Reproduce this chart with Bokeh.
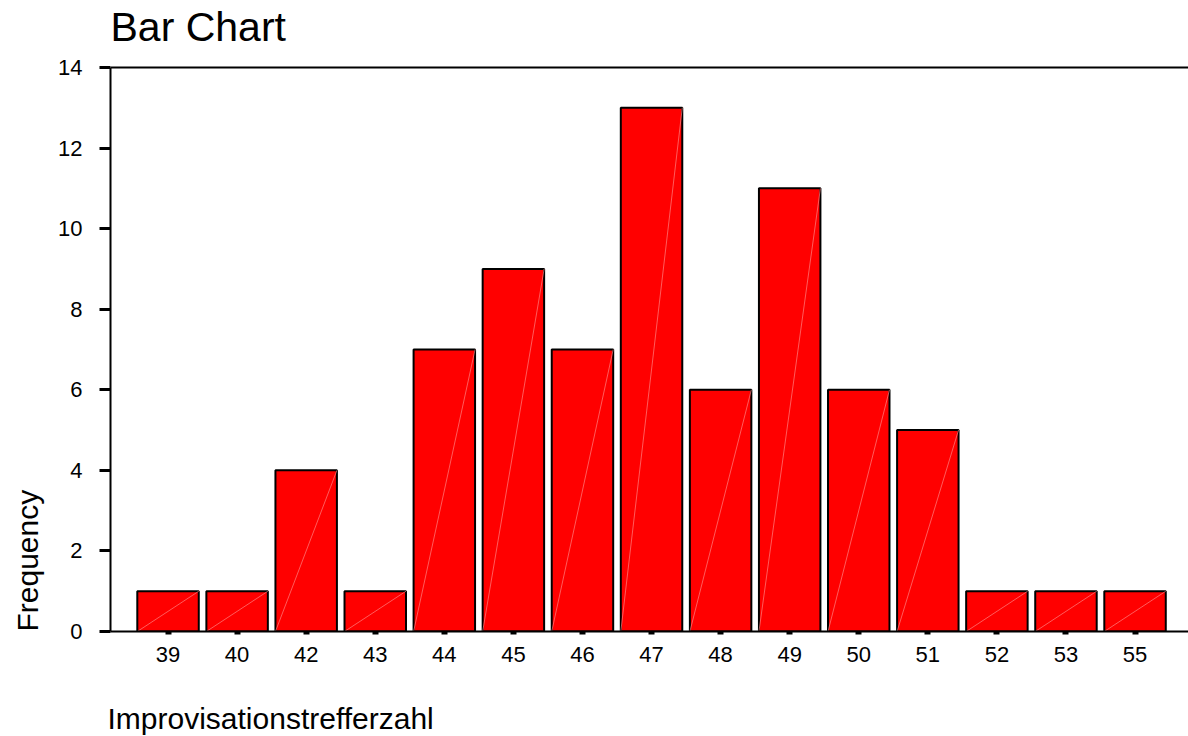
from bokeh.plotting import figure
from bokeh.models import FixedTicker, Range1d, Span, Title, Label, ColumnDataSource
from bokeh.embed import file_html
from bokeh.resources import INLINE

categories = ["39", "40", "42", "43", "44", "45", "46", "47", "48", "49", "50", "51", "52", "53", "55"]
frequency = [1, 1, 4, 1, 7, 9, 7, 13, 6, 11, 6, 5, 1, 1, 1]
y_ticks = [0, 2, 4, 6, 8, 10, 12, 14]
y_max = 14

FONT = "Liberation Sans"
BAR_W = 0.89
X0, X1 = -0.833, 14.774
PX_PER_Y = 564 / y_max
TOP_PAD_PX = 67  # frame extends to the top of the canvas; title is drawn inside it

xs = list(range(len(categories)))
src = ColumnDataSource(dict(
    x=xs, top=frequency,
    x0=[x - BAR_W / 2 for x in xs], x1=[x + BAR_W / 2 for x in xs],
    y0=[0] * len(xs),
))

p = figure(width=1188, height=736, output_backend="svg", toolbar_location=None,
           x_range=Range1d(X0, X1), y_range=Range1d(0, y_max + TOP_PAD_PX / PX_PER_Y),
           min_border_left=110, min_border_right=0, min_border_top=0, min_border_bottom=105)

p.vbar(x="x", top="top", width=BAR_W, source=src, fill_color="#ff0000",
       line_color="black", line_width=2)
p.segment(x0="x0", y0="y0", x1="x1", y1="top", source=src,
          line_color="#ff9090", line_width=0.8, line_alpha=0.8)

p.xgrid.visible = False
p.ygrid.visible = False
p.outline_line_color = None
p.background_fill_color = "white"
p.border_fill_color = "white"

p.add_layout(Span(location=y_max, dimension="width", line_color="black", line_width=2))

p.add_layout(Label(x=X0, y=y_max + 41 / PX_PER_Y, text="Bar Chart", text_font=FONT,
                   text_font_size="41px", text_color="black", text_align="left",
                   text_baseline="alphabetic"))

xa = p.xaxis[0]
xa.ticker = FixedTicker(ticks=xs)
xa.major_label_overrides = {i: c for i, c in enumerate(categories)}
xa.major_tick_in = 0
xa.major_tick_out = 3
xa.major_tick_line_width = 6
xa.minor_tick_line_color = None
xa.axis_line_width = 2
xa.axis_line_color = "black"
xa.major_label_text_font = FONT
xa.major_label_text_font_size = "22px"
xa.major_label_text_color = "black"
xa.major_label_standoff = 12
# invisible spacer label to push the axis title down
xa.axis_label = "\u00a0"
xa.axis_label_text_font_size = "20px"
xa.axis_label_standoff = 10

ya = p.yaxis[0]
ya.ticker = FixedTicker(ticks=y_ticks)
ya.bounds = (0, y_max)
ya.major_tick_in = 0
ya.major_tick_out = 11
ya.major_tick_line_width = 3
ya.minor_tick_line_color = None
ya.axis_line_width = 2
ya.axis_line_color = "black"
ya.major_label_text_font = FONT
ya.major_label_text_font_size = "22px"
ya.major_label_text_color = "black"
ya.major_label_standoff = 17

p.add_layout(Title(text="Improvisationstrefferzahl", text_font=FONT, text_font_size="30px", offset=-3,
                   text_font_style="normal", align="left", text_color="black", standoff=0,
                   text_line_height=0.75), "below")
p.add_layout(Title(text="Frequency", text_font=FONT, text_font_size="30px", vertical_align="top",
                   text_font_style="normal", align="left", text_color="black", standoff=20), "left")

open("out.html", "w").write(file_html(p, INLINE))
